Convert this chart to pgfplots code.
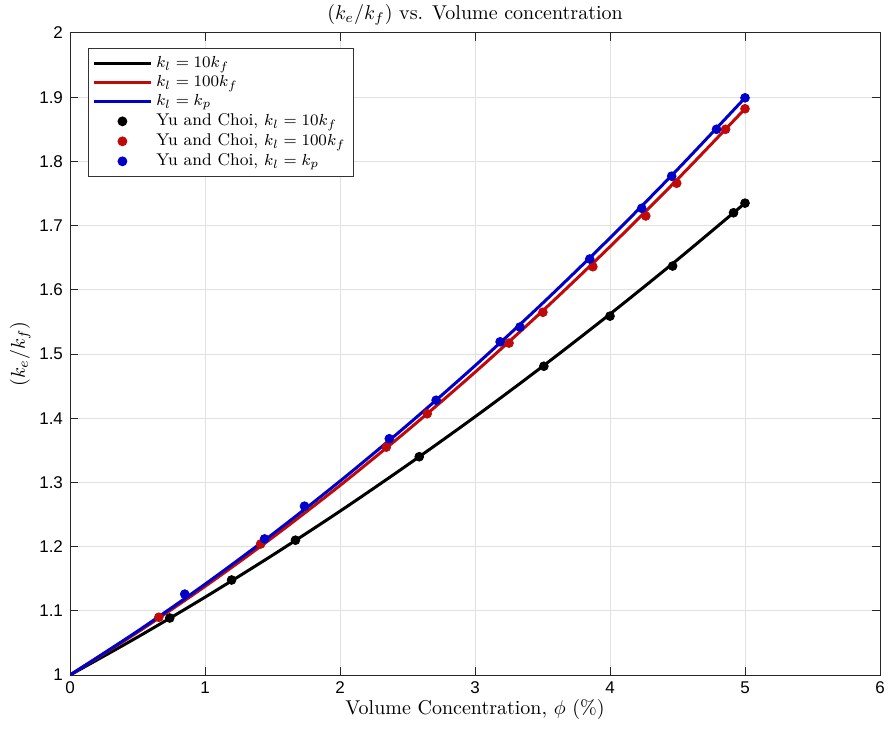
\documentclass[border=0pt]{standalone}
\usepackage{fontspec}
\setsansfont{Liberation Sans}
\usepackage{pgfplots}
\pgfplotsset{compat=1.18}
\definecolor{mred}{RGB}{192,10,10}
\definecolor{mblue}{RGB}{0,0,200}
\definecolor{gridc}{RGB}{225,225,225}
\pgfplotsset{
  lineleg/.style={legend image code/.code={\draw[##1] (0cm,0cm) -- (1.0cm,0cm);}},
  markleg/.style={legend image code/.code={\draw[##1] plot coordinates {(0.5cm,0cm)};}},
}
\begin{document}
\begin{tikzpicture}
\begin{axis}[
  scale only axis,
  width=405pt, height=321pt,
  xmin=0, xmax=6, ymin=1, ymax=2,
  xtick={0,1,2,3,4,5,6},
  ytick={1,1.1,1.2,1.3,1.4,1.5,1.6,1.7,1.8,1.9,2},
  yticklabels={1,1.1,1.2,1.3,1.4,1.5,1.6,1.7,1.8,1.9,2},
  xticklabels={0,1,2,3,4,5,6},
  /pgf/number format/assume math mode=true,
  tick label style={font=\sffamily\fontsize{8.5}{10}\selectfont, black},
  grid=major,
  major grid style={gridc, line width=0.5pt},
  axis line style={black!85, line width=0.5pt},
  tick style={black!85, line width=0.5pt},
  major tick length=4pt,
  tick align=inside,
  xtick pos=both, ytick pos=both,
  title={$(k_e/k_f)$ vs. Volume concentration},
  title style={yshift=-5.5pt},
  xlabel={Volume Concentration, $\phi$ (\%)},
  ylabel={$(k_e/k_f)$},
  xlabel style={yshift=4pt},
  ylabel style={yshift=-2.5pt},
  legend style={at={(rel axis cs:0.0222,0.9766)}, anchor=north west,
    font=\fontsize{8.5}{10}\selectfont, draw=black!80, line width=0.5pt,
    row sep=-1.5pt, inner sep=2pt},
  legend cell align=left,
]
\addplot[black, line width=1.5pt, smooth, lineleg] coordinates {
(0,1) (0.5,1.0590) (1,1.1212) (1.5,1.1866) (2,1.2552) (2.5,1.3272) (3,1.4022) (3.5,1.4806) (4,1.5622) (4.5,1.6470) (5,1.735)};
\addlegendentry{$k_l = 10k_f$}
\addplot[mred, line width=1.5pt, smooth, lineleg] coordinates {
(0,1) (0.5,1.0666) (1,1.1380) (1.5,1.2142) (2,1.2952) (2.5,1.3810) (3,1.4716) (3.5,1.5670) (4,1.6672) (4.5,1.7722) (5,1.882)};
\addlegendentry{$k_l = 100k_f$}
\addplot[mblue, line width=1.5pt, smooth, lineleg] coordinates {
(0,1) (0.5,1.0683) (1,1.1414) (1.5,1.2193) (2,1.3020) (2.5,1.3895) (3,1.4818) (3.5,1.5789) (4,1.6808) (4.5,1.7875) (5,1.899)};
\addlegendentry{$k_l = k_p$}
\addplot[only marks, mark=*, mark size=2.2pt, black, fill=black, markleg] coordinates {
(0.739,1.0888) (1.197,1.148) (1.67,1.210) (2.587,1.340) (3.51,1.481) (4.0,1.559) (4.464,1.637) (4.915,1.720) (5.0,1.735)};
\addlegendentry{Yu and Choi, $k_l = 10k_f$}
\addplot[only marks, mark=*, mark size=2.2pt, mred, fill=mred, markleg] coordinates {
(0.658,1.090) (1.412,1.204) (2.343,1.355) (2.646,1.407) (3.252,1.517) (3.503,1.565) (3.873,1.636) (4.265,1.715) (4.494,1.766) (4.856,1.850) (5.0,1.882)};
\addlegendentry{Yu and Choi, $k_l = 100k_f$}
\addplot[only marks, mark=*, mark size=2.2pt, mblue, fill=mblue, markleg] coordinates {
(0.85,1.126) (1.441,1.212) (1.737,1.263) (2.365,1.368) (2.712,1.428) (3.186,1.519) (3.333,1.542) (3.85,1.648) (4.235,1.727) (4.457,1.777) (4.789,1.850) (5.0,1.899)};
\addlegendentry{Yu and Choi, $k_l = k_p$}
\coordinate (ll) at (rel axis cs:0,0);
\coordinate (ur) at (rel axis cs:1,1);
\end{axis}
\pgfresetboundingbox
\path[use as bounding box] ([xshift=-35pt,yshift=-29.5pt]ll) rectangle ([xshift=4.5pt,yshift=16.5pt]ur);
\end{tikzpicture}
\end{document}
